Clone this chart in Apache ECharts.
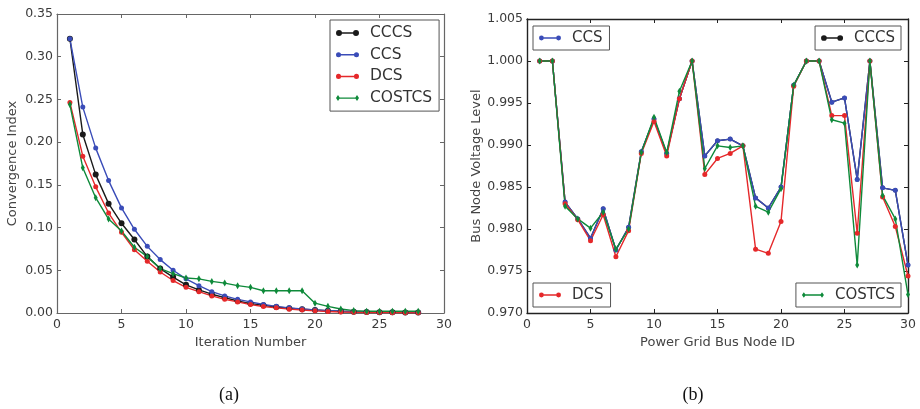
<!DOCTYPE html>
<html>
<head>
<meta charset="utf-8">
<script src="https://cdn.jsdelivr.net/npm/echarts@6/dist/echarts.min.js"></script>
<style>
html,body{margin:0;padding:0;background:#fff;}
#c{width:920px;height:409px;}
</style>
</head>
<body>
<div id="c"></div>
<script>
// ---------- Data: (a) convergence ----------
const iterations = [1,2,3,4,5,6,7,8,9,10,11,12,13,14,15,16,17,18,19,20,21,22,23,24,25,26,27,28];
const convCCCS   = [0.321,0.209,0.162,0.128,0.105,0.086,0.066,0.052,0.042,0.033,0.027,0.022,0.018,0.014,0.011,0.009,0.007,0.0055,0.0045,0.0035,0.0027,0.002,0.0015,0.0012,0.001,0.0008,0.0006,0.0005];
const convCCS    = [0.321,0.241,0.193,0.155,0.123,0.098,0.078,0.0625,0.050,0.040,0.032,0.025,0.020,0.016,0.013,0.010,0.0078,0.006,0.0047,0.0035,0.0027,0.002,0.0016,0.0012,0.001,0.0008,0.0007,0.0006];
const convDCS    = [0.2465,0.1836,0.1477,0.117,0.0945,0.074,0.0605,0.048,0.038,0.030,0.025,0.020,0.016,0.013,0.010,0.0075,0.006,0.0045,0.0035,0.0025,0.0018,0.0012,0.0008,0.0006,0.0005,0.0004,0.0003,0.0002];
const convCOSTCS = [0.244,0.170,0.135,0.110,0.096,0.077,0.066,0.052,0.046,0.041,0.040,0.037,0.035,0.032,0.030,0.026,0.026,0.026,0.026,0.0115,0.0078,0.0047,0.0028,0.002,0.002,0.002,0.002,0.002];

// ---------- Data: (b) bus voltage ----------
const busNodes  = [1,2,3,4,5,6,7,8,9,10,11,12,13,14,15,16,17,18,19,20,21,22,23,24,25,26,27,28,29,30];
const voltCCS    = [1.000,1.000,0.9832,0.9812,0.9789,0.9824,0.9775,0.9802,0.9892,0.9931,0.9890,0.9955,1.000,0.9887,0.9905,0.9907,0.9899,0.9837,0.9825,0.9850,0.9971,1.000,1.000,0.9951,0.9956,0.9859,1.000,0.9849,0.9846,0.9757];
const voltCCCS   = [1.000,1.000,0.9832,0.9812,0.9789,0.9824,0.9775,0.9802,0.9892,0.9931,0.9890,0.9955,1.000,0.9887,0.9905,0.9907,0.9899,0.9837,0.9825,0.9850,0.9971,1.000,1.000,0.9951,0.9956,0.9859,1.000,0.9849,0.9846,0.9757];
const voltDCS    = [1.000,1.000,0.9830,0.9811,0.9786,0.9817,0.9767,0.9798,0.9890,0.9928,0.9887,0.9955,1.000,0.9865,0.9884,0.9890,0.9899,0.9776,0.9771,0.9809,0.9970,1.000,1.000,0.9935,0.9935,0.9795,1.000,0.9838,0.9803,0.9744];
const voltCOSTCS = [1.000,1.000,0.9827,0.9812,0.9801,0.9820,0.9776,0.9800,0.9891,0.9933,0.9891,0.9964,1.000,0.9872,0.9899,0.9897,0.9899,0.9827,0.9820,0.9848,0.9971,1.000,1.000,0.9930,0.9926,0.9757,1.000,0.9840,0.9812,0.9722];

// ---------- Text ----------
const seriesNames = ['CCCS','CCS','DCS','COSTCS'];
const xNameA = 'Iteration Number', yNameA = 'Convergence Index';
const xNameB = 'Power Grid Bus Node ID', yNameB = 'Bus Node Voltage Level';
const captionA = '(a)', captionB = '(b)';

// ---------- Styles ----------
const colors = {CCCS:'#1a1a1a', CCS:'#3a4cb8', DCS:'#e5282a', COSTCS:'#0e8a3a'};
const symbols = {CCCS:'circle', CCS:'circle', DCS:'circle', COSTCS:'diamond'};
const symSize = {CCCS:6, CCS:5, DCS:5, COSTCS:[4,7]};
const FONT = 'DejaVu Sans';

const iconBig   = 'path://M0,3 A3,3 0 1 1 6,3 A3,3 0 1 1 0,3 Z M5.5,2.3 L17.5,2.3 L17.5,3.7 L5.5,3.7 Z M17,3 A3,3 0 1 1 23,3 A3,3 0 1 1 17,3 Z';
const iconSmall = 'path://M0.6,3 A2.4,2.4 0 1 1 5.4,3 A2.4,2.4 0 1 1 0.6,3 Z M5,2.3 L18,2.3 L18,3.7 L5,3.7 Z M17.6,3 A2.4,2.4 0 1 1 22.4,3 A2.4,2.4 0 1 1 17.6,3 Z';
const iconDiam  = 'path://M2,0 L4,3 L2,6 L0,3 Z M3.5,2.3 L19.5,2.3 L19.5,3.7 L3.5,3.7 Z M21,0 L23,3 L21,6 L19,3 Z';
const icons = {CCCS:iconBig, CCS:iconSmall, DCS:iconSmall, COSTCS:iconDiam};

function pairs(xs, ys){ return xs.map((x,i)=>[x, ys[i]]); }

function makeAxisPair(gridIndex, kind, opts){
  const axisColor = opts.axisColor;
  const main = {
    type:'value', gridIndex, min:opts.min, max:opts.max, interval:opts.interval,
    position: kind==='x' ? 'bottom' : 'left',
    axisLine:{show:true, onZero:false, lineStyle:{color:axisColor, width:opts.lw}},
    axisTick:{show:true, inside:true, length:4, lineStyle:{color:axisColor}},
    axisLabel:{show:true, color:'#3a3a3a', fontFamily:FONT, fontSize:12.5, margin:kind==='x'?5:4,
               formatter: v => opts.fmt(v)},
    splitLine:{show:false},
    name: opts.name, nameLocation:'middle', nameGap: opts.nameGap,
    nameTextStyle:{color:'#444', fontFamily:FONT, fontSize:13}
  };
  const mirror = {
    type:'value', gridIndex, min:opts.min, max:opts.max, interval:opts.interval,
    position: kind==='x' ? 'top' : 'right',
    axisLine:{show:true, onZero:false, lineStyle:{color:axisColor, width:opts.lw}},
    axisTick:{show:true, inside:true, length:4, lineStyle:{color:axisColor}},
    axisLabel:{show:false}, splitLine:{show:false}
  };
  return [main, mirror];
}

const xA = makeAxisPair(0,'x',{min:0,max:30,interval:5,fmt:v=>String(Math.round(v)),name:xNameA,nameGap:18,axisColor:'#666',lw:1.2});
const yA = makeAxisPair(0,'y',{min:0,max:0.35,interval:0.05,fmt:v=>v.toFixed(2),name:yNameA,nameGap:38,axisColor:'#666',lw:1.2});
const xB = makeAxisPair(1,'x',{min:0,max:30,interval:5,fmt:v=>String(Math.round(v)),name:xNameB,nameGap:18,axisColor:'#222',lw:1.4});
const yB = makeAxisPair(1,'y',{min:0.970,max:1.005,interval:0.005,fmt:v=>v.toFixed(3),name:yNameB,nameGap:43,axisColor:'#222',lw:1.4});

const convData = {CCCS:convCCCS, CCS:convCCS, DCS:convDCS, COSTCS:convCOSTCS};
const voltData = {CCCS:voltCCCS, CCS:voltCCS, DCS:voltDCS, COSTCS:voltCOSTCS};

function mkSeries(name, xs, ys, xi, yi, size){
  return {
    type:'line', name, xAxisIndex:xi, yAxisIndex:yi,
    data: pairs(xs, ys),
    symbol: symbols[name], symbolSize: size, showSymbol:true,
    lineStyle:{color:colors[name], width:1.4},
    itemStyle:{color:colors[name]},
    emphasis:{disabled:true}, animation:false, z:2
  };
}

const series = [];
seriesNames.forEach(n => series.push(mkSeries(n, iterations, convData[n], 0, 0, symSize[n])));
seriesNames.forEach(n => series.push(mkSeries(n, busNodes, voltData[n], 2, 2, n==='CCCS' ? 4.5 : symSize[n])));

function legendBox(names, pos, fontSize, padding, itemGap, itemWidth){
  return Object.assign({
    orient:'vertical', data: names.map(n=>({name:n, icon:icons[n]})),
    itemWidth:itemWidth, itemHeight:6, itemGap:itemGap, selectedMode:false,
    backgroundColor:'#fff', borderColor:'#555', borderWidth:1, borderRadius:0,
    padding: padding,
    textStyle:{fontFamily:FONT, fontSize:fontSize, color:'#333', lineHeight:16, padding:[0,0,0,6]}
  }, pos);
}

const option = {
  animation:false,
  backgroundColor:'#fff',
  grid:[
    {left:57, top:14, width:387, height:299, containLabel:false},
    {left:527, top:19, width:381, height:294, containLabel:false}
  ],
  xAxis:[xA[0], xA[1], xB[0], xB[1]],
  yAxis:[yA[0], yA[1], yB[0], yB[1]],
  legend:[
    legendBox(seriesNames, {left:330, top:20}, 15.5, [5,7,5,6], 5.7, 23),
    legendBox(['CCS'],    {left:533, top:26},  15, [4,7,4,6], 5, 22),
    legendBox(['CCCS'],   {right:19, top:26},  15, [4,6,4,6], 5, 22),
    legendBox(['DCS'],    {left:533, bottom:102}, 15, [4,7,4,6], 5, 22),
    legendBox(['COSTCS'], {right:19, bottom:102}, 15, [4,6,4,6], 5, 22)
  ],
  series: series,
  graphic:[
    {type:'text', style:{text:captionA, font:'18px "Liberation Serif"', fill:'#111', textAlign:'center'}, x:229, y:386},
    {type:'text', style:{text:captionB, font:'18px "Liberation Serif"', fill:'#111', textAlign:'center'}, x:693, y:386}
  ]
};

const chart = echarts.init(document.getElementById('c'), null, {renderer:'canvas'});
chart.setOption(option);
</script>
</body>
</html>
